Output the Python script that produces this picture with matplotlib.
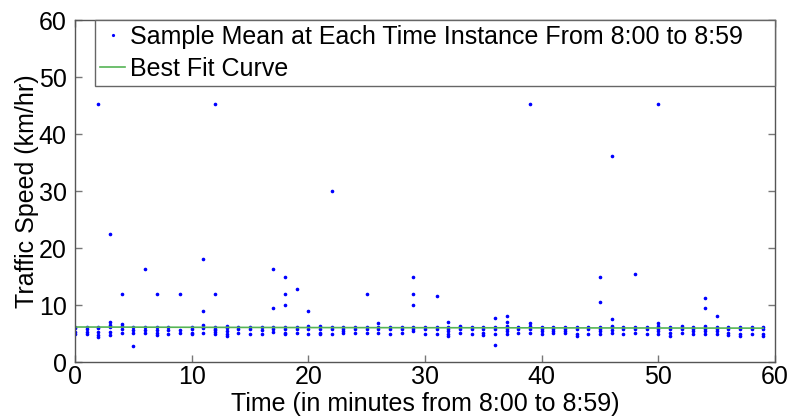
import matplotlib
matplotlib.use("Agg")
import matplotlib.pyplot as plt

# Sample mean speeds clustered near 5-7 km/hr, one list per minute (0..59)
low_speeds = [
    [6.2, 5.9, 5.3, 5.0],
    [6.2, 5.8, 5.3, 5.0],
    [6.2, 5.9, 5.2, 4.8, 4.4],
    [7.0, 6.5, 6.1, 5.2, 4.8],
    [6.7, 6.3, 5.8, 5.1],
    [6.1, 5.6, 5.1, 2.9],
    [6.1, 5.7, 5.1],
    [6.1, 5.7, 5.1, 4.8],
    [6.1, 5.7, 5.0],
    [5.7, 5.1],
    [6.1, 5.8, 5.1, 5.0],
    [6.5, 5.9, 5.1],
    [6.1, 5.8, 5.6, 5.3, 5.0],
    [6.3, 5.9, 5.4, 5.0, 4.6],
    [6.1, 5.8, 5.1],
    [6.1, 5.8, 5.0],
    [6.1, 5.7, 5.0],
    [6.1, 5.8, 5.3],
    [6.1, 5.8, 5.1, 5.0],
    [6.1, 5.8, 5.1],
    [6.3, 5.8, 5.0],
    [6.3, 5.8, 5.1, 5.0],
    [6.1, 5.8, 5.0],
    [6.1, 5.8, 5.4, 5.1],
    [6.1, 5.8, 5.1],
    [6.1, 5.8, 5.1],
    [6.9, 6.1, 5.8, 5.1],
    [6.1, 5.8, 5.0],
    [6.1, 5.8, 5.1],
    [6.1, 5.8, 5.4],
    [6.1, 5.8, 5.0],
    [6.1, 5.8, 5.0],
    [7.1, 6.1, 5.8, 5.4, 5.0, 4.6],
    [6.4, 6.1, 5.8, 5.1],
    [6.1, 5.8, 5.0],
    [6.1, 5.8, 5.1, 4.7],
    [6.1, 5.8, 5.0, 3.0],
    [7.1, 6.3, 5.8, 5.4, 5.0],
    [6.1, 5.8, 5.1],
    [6.9, 6.3, 5.8, 5.1],
    [6.1, 5.8, 5.4, 5.0],
    [6.1, 5.8, 5.4, 5.1],
    [6.1, 5.8, 5.4, 5.1],
    [6.1, 5.8, 5.0, 4.6],
    [6.1, 5.8, 5.0],
    [6.1, 5.8, 5.4, 5.0],
    [6.4, 6.1, 5.7, 5.1],
    [6.1, 5.8, 5.0],
    [6.1, 5.8, 5.1],
    [6.1, 5.8, 5.0],
    [6.9, 6.3, 5.8, 5.4, 5.0],
    [6.1, 5.8, 5.1, 4.6],
    [6.3, 5.8, 5.1],
    [6.1, 5.8, 5.4, 5.0],
    [6.3, 5.8, 5.4, 5.0],
    [6.1, 5.8, 5.4, 5.0],
    [6.1, 5.8, 5.1, 4.8],
    [6.1, 5.8, 5.0, 4.6],
    [6.1, 5.8, 5.0],
    [6.1, 5.8, 5.0, 4.6],
]

# Higher sample means
outlier_minutes = [2, 12, 39, 50, 46, 22, 3, 6, 11, 4, 7, 9, 12, 11,
                   17, 17, 18, 18, 18, 19, 20, 25, 29, 29, 29, 31,
                   36, 37, 45, 45, 46, 48, 54, 54, 55]
outlier_speeds = [45.2, 45.2, 45.2, 45.2, 36.1, 30.1, 22.5, 16.4, 18.0, 12.0, 12.0, 12.0, 12.0, 9.0,
                  16.4, 9.4, 15.0, 12.0, 10.0, 12.8, 9.0, 12.0, 15.0, 12.0, 10.0, 11.6,
                  7.8, 8.1, 15.0, 10.6, 7.5, 15.4, 11.2, 9.4, 8.1]

# Best fit curve
fit_x = [0, 20, 40, 59]
fit_y = [6.15, 6.05, 6.0, 5.95]

x_vals = []
y_vals = []
for minute, speeds in enumerate(low_speeds):
    for s in speeds:
        x_vals.append(minute)
        y_vals.append(s)
x_vals += outlier_minutes
y_vals += outlier_speeds

plt.rcParams["font.family"] = ["Liberation Sans", "DejaVu Sans"]

fig = plt.figure(figsize=(7.88, 4.2), dpi=100)
ax = fig.add_axes([0.0952, 0.138, 0.8883, 0.814])

ax.plot(x_vals, y_vals, linestyle="none", marker=".", markersize=3.2, color="#0000ff",
        label="Sample Mean at Each Time Instance From 8:00 to 8:59")
ax.plot(fit_x, fit_y, color="#55b455", linewidth=1.2, label="Best Fit Curve")

ax.set_xlim(0, 60)
ax.set_ylim(0, 60)
ax.set_xticks(range(0, 61, 10))
ax.set_yticks(range(0, 61, 10))
ax.tick_params(direction="in", length=5, width=1, color="#777777", labelsize=18,
               top=True, right=True)
ax.tick_params(axis="x", pad=2)
ax.tick_params(axis="y", pad=6)
for sp in ax.spines.values():
    sp.set_color("#555555")
    sp.set_linewidth(1)

ax.set_xlabel("Time (in minutes from 8:00 to 8:59)", fontsize=18, labelpad=2)
ax.set_ylabel("Traffic Speed (km/hr)", fontsize=18, labelpad=0)

leg = ax.legend(loc="upper left", bbox_to_anchor=(0.029, 0.0, 0.971, 1.0), mode="expand",
                fontsize=18, frameon=True, fancybox=False, framealpha=1, edgecolor="#666666",
                borderaxespad=0, handlelength=1.0, handletextpad=0.2, borderpad=0.2,
                labelspacing=0.3, markerscale=0.8)
leg.get_frame().set_linewidth(1)

fig.savefig("out.png", dpi=100)
